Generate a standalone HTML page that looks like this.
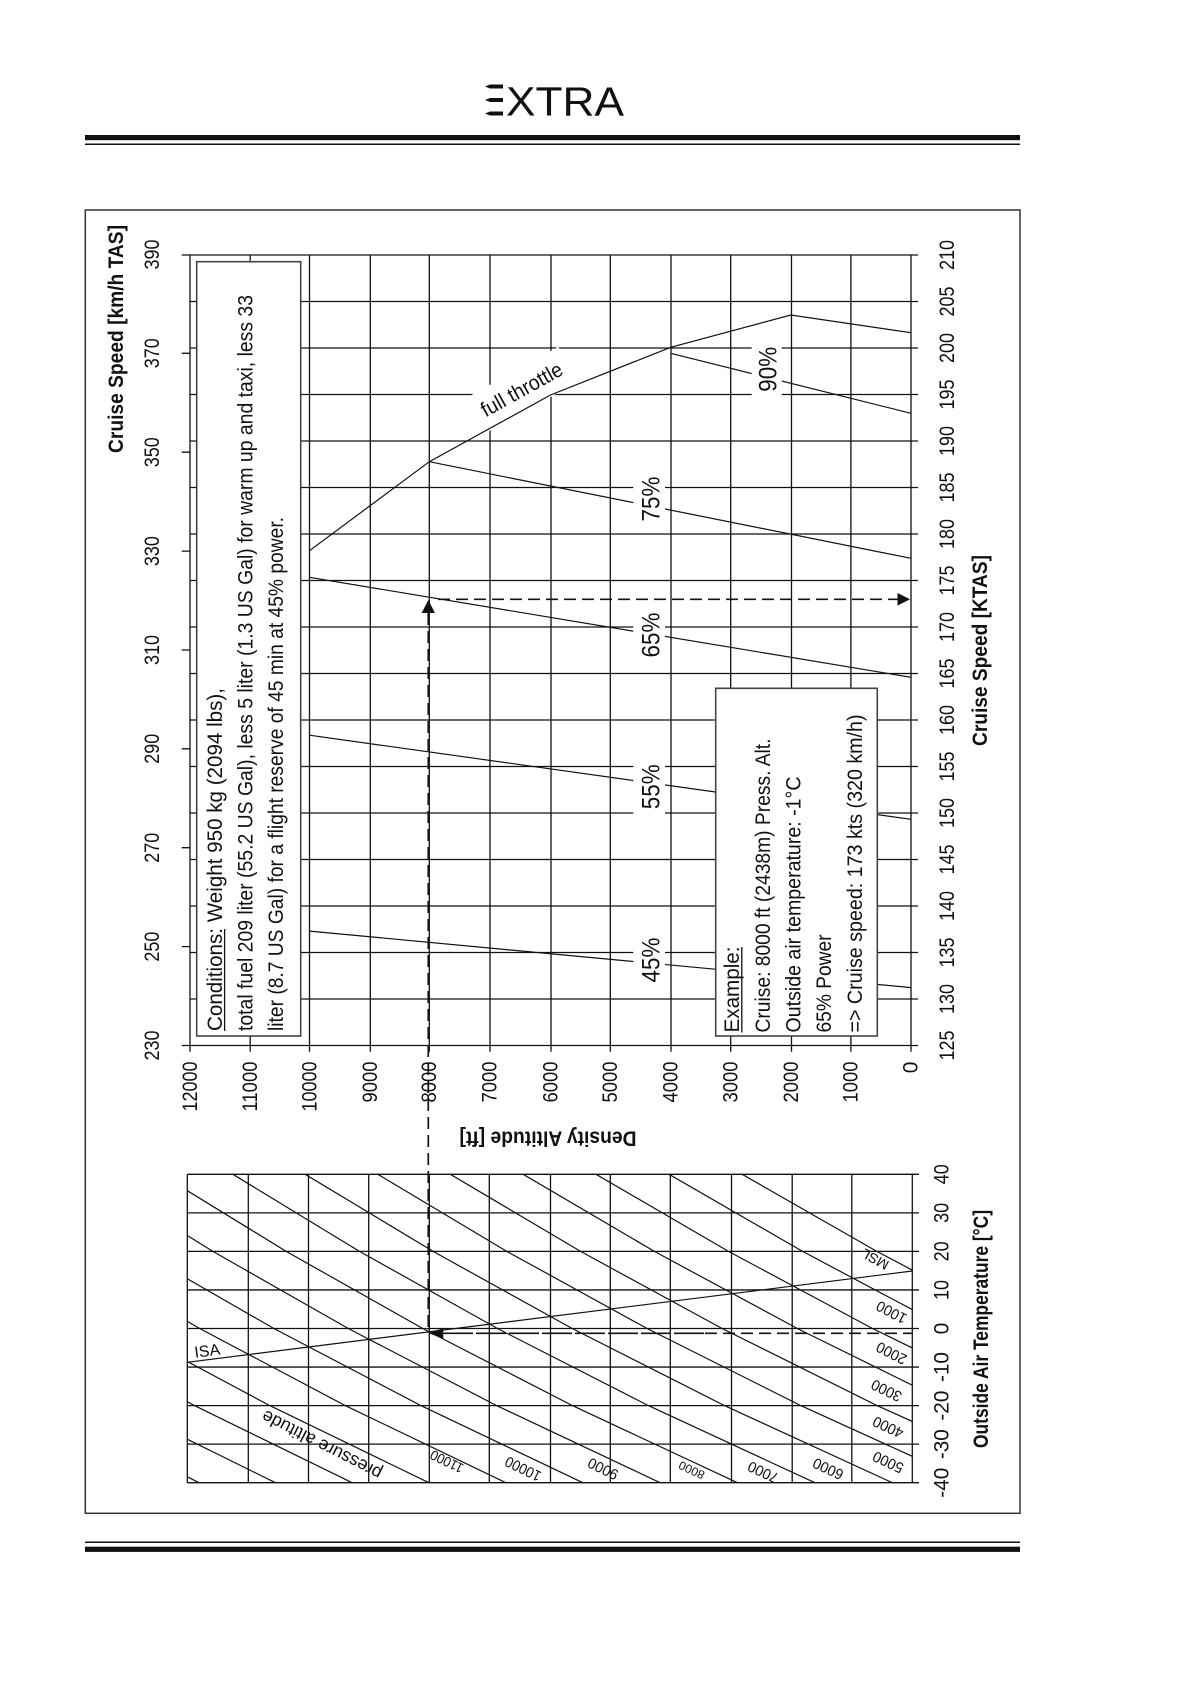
<!DOCTYPE html>
<html><head><meta charset="utf-8"><style>
html,body{margin:0;padding:0;background:#fff;}
svg{display:block;}
text{font-family:"Liberation Sans",Arial,sans-serif;fill:#111;}
.b{font-weight:bold;}
</style></head><body>
<svg width="1191" height="1684" viewBox="0 0 1191 1684" xmlns="http://www.w3.org/2000/svg">
<rect x="0" y="0" width="1191" height="1684" fill="#fff"/>
<!-- header -->
<polygon points="485,86.5 490,84.5 503,84.5 503,88.5 490,88.5" fill="#111"/>
<polygon points="485,100 490,98 503,98 503,102 490,102" fill="#111"/>
<polygon points="485,113.5 490,111.5 503,111.5 503,115.5 490,115.5" fill="#111"/>
<text x="506" y="115.5" font-size="41" textLength="118" lengthAdjust="spacingAndGlyphs">XTRA</text>
<rect x="85" y="135" width="935" height="5.2" fill="#111"/>
<line x1="85" y1="144.3" x2="1020" y2="144.3" stroke="#111" stroke-width="1.5"/>
<line x1="85" y1="1542.3" x2="1020" y2="1542.3" stroke="#111" stroke-width="1.5"/>
<rect x="85" y="1546.7" width="935" height="5.2" fill="#111"/>
<!-- frame -->
<rect x="85.3" y="210" width="934.7" height="1303.3" fill="none" stroke="#333" stroke-width="1.5"/>

<!-- main grid -->
<path fill="none" stroke="#111" stroke-width="1.3" d="M181.7 255H918 M189.7 301.5H918 M189.7 348H918 M189.7 394.5H918 M189.7 441H918 M189.7 487.5H918 M189.7 534H918 M189.7 580.5H918 M189.7 627H918 M189.7 673.5H918 M189.7 720H918 M189.7 766.5H918 M189.7 813H918 M189.7 859.5H918 M189.7 906H918 M189.7 952.5H918 M189.7 999H918 M181.7 1045.5H918
M181.7 946.6H189.7 M181.7 847.7H189.7 M181.7 748.8H189.7 M181.7 650H189.7 M181.7 551.1H189.7 M181.7 452.2H189.7 M181.7 353.3H189.7
M190 255V1051.7 M250.2 255V1051.7 M309.5 255V1051.7 M370.3 255V1051.7 M429.3 255V1051.7 M490 255V1051.7 M551 255V1051.7 M610.3 255V1051.7 M671 255V1051.7 M730.7 255V1051.7 M791.5 255V1051.7 M850.9 255V1051.7 M911 255V1051.7"/>

<!-- full throttle label background -->
<rect x="465" y="371" width="110" height="40" fill="#fff" transform="rotate(-29 520 391)"/>

<!-- curves -->
<g fill="none" stroke="#111" stroke-width="1.2">
<polyline points="309.5,550.7 429.3,461.7 550.5,395 670.7,347.3 790.8,315 911,332.7"/>
<line x1="670.7" y1="353.3" x2="911" y2="413.3"/>
<line x1="429.3" y1="461.7" x2="911" y2="558.3"/>
<line x1="309.5" y1="577.3" x2="911" y2="677.3"/>
<line x1="309.5" y1="735.2" x2="911" y2="819.3"/>
<line x1="309.5" y1="931.1" x2="911" y2="987.6"/>
</g>

<!-- percent label backgrounds -->
<g fill="#fff">
<rect x="751.7" y="342" width="30" height="54"/>
<rect x="633.3" y="471" width="31.7" height="56"/>
<rect x="633.3" y="608" width="31.7" height="54"/>
<rect x="633.3" y="759" width="31.7" height="57"/>
<rect x="633.3" y="932" width="31.7" height="56"/>
</g>
<g font-size="25" text-anchor="middle" dominant-baseline="central">
<text transform="translate(768.3,369.2) rotate(-90)" textLength="45" lengthAdjust="spacingAndGlyphs">90%</text>
<text transform="translate(651.7,499) rotate(-90)" textLength="45" lengthAdjust="spacingAndGlyphs">75%</text>
<text transform="translate(651.7,635) rotate(-90)" textLength="45" lengthAdjust="spacingAndGlyphs">65%</text>
<text transform="translate(651.7,786.7) rotate(-90)" textLength="45" lengthAdjust="spacingAndGlyphs">55%</text>
<text transform="translate(651.7,960) rotate(-90)" textLength="45" lengthAdjust="spacingAndGlyphs">45%</text>
</g>
<text transform="translate(522,390) rotate(-29)" font-size="21" text-anchor="middle" dominant-baseline="central" textLength="90" lengthAdjust="spacingAndGlyphs">full throttle</text>

<!-- conditions box -->
<rect x="196.7" y="261.7" width="104" height="774.3" fill="#fff" stroke="#444" stroke-width="1.6"/>
<g font-size="21.5">
<text transform="translate(222,1031) rotate(-90)" textLength="343" lengthAdjust="spacingAndGlyphs">Conditions: Weight 950 kg (2094 lbs),</text>
<text transform="translate(252.3,1031) rotate(-90)" textLength="736" lengthAdjust="spacingAndGlyphs">total fuel 209 liter (55.2 US Gal), less 5 liter (1.3 US Gal) for warm up and taxi, less 33</text>
<text transform="translate(283,1031) rotate(-90)" textLength="514" lengthAdjust="spacingAndGlyphs">liter (8.7 US Gal) for a flight reserve of 45 min at 45% power.</text>
</g>
<line x1="224.6" y1="1031" x2="224.6" y2="929" stroke="#111" stroke-width="1.3"/>

<!-- example box -->
<rect x="715.7" y="688.3" width="161.6" height="347.7" fill="#fff" stroke="#444" stroke-width="1.6"/>
<g font-size="21.5">
<text transform="translate(739,1032.5) rotate(-90)" textLength="86" lengthAdjust="spacingAndGlyphs">Example:</text>
<text transform="translate(770,1032.5) rotate(-90)" textLength="294" lengthAdjust="spacingAndGlyphs">Cruise: 8000 ft (2438m) Press. Alt.</text>
<text transform="translate(800.5,1032.5) rotate(-90)" textLength="256" lengthAdjust="spacingAndGlyphs">Outside air temperature: -1°C</text>
<text transform="translate(831,1032.5) rotate(-90)" textLength="98" lengthAdjust="spacingAndGlyphs">65% Power</text>
<text transform="translate(862,1032.5) rotate(-90)" textLength="318" lengthAdjust="spacingAndGlyphs">=&gt; Cruise speed: 173 kts (320 km/h)</text>
</g>
<line x1="741.8" y1="1032.5" x2="741.8" y2="947" stroke="#111" stroke-width="1.3"/>

<!-- km/h labels -->
<g font-size="21" text-anchor="middle" dominant-baseline="central">
<text transform="translate(152.5,1045.5) rotate(-90)" textLength="30" lengthAdjust="spacingAndGlyphs">230</text>
<text transform="translate(152.5,946.6) rotate(-90)" textLength="30" lengthAdjust="spacingAndGlyphs">250</text>
<text transform="translate(152.5,847.7) rotate(-90)" textLength="30" lengthAdjust="spacingAndGlyphs">270</text>
<text transform="translate(152.5,748.8) rotate(-90)" textLength="30" lengthAdjust="spacingAndGlyphs">290</text>
<text transform="translate(152.5,650) rotate(-90)" textLength="30" lengthAdjust="spacingAndGlyphs">310</text>
<text transform="translate(152.5,551.1) rotate(-90)" textLength="30" lengthAdjust="spacingAndGlyphs">330</text>
<text transform="translate(152.5,452.2) rotate(-90)" textLength="30" lengthAdjust="spacingAndGlyphs">350</text>
<text transform="translate(152.5,353.3) rotate(-90)" textLength="30" lengthAdjust="spacingAndGlyphs">370</text>
<text transform="translate(152.5,254.5) rotate(-90)" textLength="30" lengthAdjust="spacingAndGlyphs">390</text>
</g>
<text class="b" transform="translate(123,339) rotate(-90)" font-size="21" text-anchor="middle" textLength="228" lengthAdjust="spacingAndGlyphs">Cruise Speed [km/h TAS]</text>

<!-- KTAS labels -->
<g font-size="21" text-anchor="middle" dominant-baseline="central">
<text transform="translate(947.5,1045.5) rotate(-90)" textLength="30" lengthAdjust="spacingAndGlyphs">125</text>
<text transform="translate(947.5,999) rotate(-90)" textLength="30" lengthAdjust="spacingAndGlyphs">130</text>
<text transform="translate(947.5,952.5) rotate(-90)" textLength="30" lengthAdjust="spacingAndGlyphs">135</text>
<text transform="translate(947.5,906) rotate(-90)" textLength="30" lengthAdjust="spacingAndGlyphs">140</text>
<text transform="translate(947.5,859.5) rotate(-90)" textLength="30" lengthAdjust="spacingAndGlyphs">145</text>
<text transform="translate(947.5,813) rotate(-90)" textLength="30" lengthAdjust="spacingAndGlyphs">150</text>
<text transform="translate(947.5,766.5) rotate(-90)" textLength="30" lengthAdjust="spacingAndGlyphs">155</text>
<text transform="translate(947.5,720) rotate(-90)" textLength="30" lengthAdjust="spacingAndGlyphs">160</text>
<text transform="translate(947.5,673.5) rotate(-90)" textLength="30" lengthAdjust="spacingAndGlyphs">165</text>
<text transform="translate(947.5,627) rotate(-90)" textLength="30" lengthAdjust="spacingAndGlyphs">170</text>
<text transform="translate(947.5,580.5) rotate(-90)" textLength="30" lengthAdjust="spacingAndGlyphs">175</text>
<text transform="translate(947.5,534) rotate(-90)" textLength="30" lengthAdjust="spacingAndGlyphs">180</text>
<text transform="translate(947.5,487.5) rotate(-90)" textLength="30" lengthAdjust="spacingAndGlyphs">185</text>
<text transform="translate(947.5,441) rotate(-90)" textLength="30" lengthAdjust="spacingAndGlyphs">190</text>
<text transform="translate(947.5,394.5) rotate(-90)" textLength="30" lengthAdjust="spacingAndGlyphs">195</text>
<text transform="translate(947.5,348) rotate(-90)" textLength="30" lengthAdjust="spacingAndGlyphs">200</text>
<text transform="translate(947.5,301.5) rotate(-90)" textLength="30" lengthAdjust="spacingAndGlyphs">205</text>
<text transform="translate(947.5,255) rotate(-90)" textLength="30" lengthAdjust="spacingAndGlyphs">210</text>
</g>
<text class="b" transform="translate(987,650.5) rotate(-90)" font-size="21" text-anchor="middle" textLength="191" lengthAdjust="spacingAndGlyphs">Cruise Speed [KTAS]</text>

<!-- density altitude labels -->
<g font-size="21" text-anchor="end" dominant-baseline="central">
<text transform="translate(190.5,1061.5) rotate(-90)" textLength="50" lengthAdjust="spacingAndGlyphs">12000</text>
<text transform="translate(250.5,1061.5) rotate(-90)" textLength="50" lengthAdjust="spacingAndGlyphs">11000</text>
<text transform="translate(309.8,1061.5) rotate(-90)" textLength="50" lengthAdjust="spacingAndGlyphs">10000</text>
<text transform="translate(370.5,1061.5) rotate(-90)" textLength="41" lengthAdjust="spacingAndGlyphs">9000</text>
<text transform="translate(429.5,1061.5) rotate(-90)" textLength="41" lengthAdjust="spacingAndGlyphs">8000</text>
<text transform="translate(490.2,1061.5) rotate(-90)" textLength="41" lengthAdjust="spacingAndGlyphs">7000</text>
<text transform="translate(551.2,1061.5) rotate(-90)" textLength="41" lengthAdjust="spacingAndGlyphs">6000</text>
<text transform="translate(610.5,1061.5) rotate(-90)" textLength="41" lengthAdjust="spacingAndGlyphs">5000</text>
<text transform="translate(671.2,1061.5) rotate(-90)" textLength="41" lengthAdjust="spacingAndGlyphs">4000</text>
<text transform="translate(730.9,1061.5) rotate(-90)" textLength="41" lengthAdjust="spacingAndGlyphs">3000</text>
<text transform="translate(791.7,1061.5) rotate(-90)" textLength="41" lengthAdjust="spacingAndGlyphs">2000</text>
<text transform="translate(851.1,1061.5) rotate(-90)" textLength="41" lengthAdjust="spacingAndGlyphs">1000</text>
<text transform="translate(911.2,1061.5) rotate(-90)">0</text>
</g>
<text class="b" transform="translate(548,1138) rotate(180)" font-size="21" text-anchor="middle" dominant-baseline="central" textLength="177" lengthAdjust="spacingAndGlyphs">Density Altitude [ft]</text>

<!-- lower chart -->
<defs><clipPath id="lc"><rect x="187.3" y="1174.3" width="725" height="308.4"/></clipPath></defs>
<g clip-path="url(#lc)" fill="none" stroke="#111" stroke-width="1.2">
<polyline points="742.2,1174.3 876.8,1251.4 1023.4,1328.5"/>
<polyline points="669.1,1174.3 802.6,1251.4 947.9,1328.5 1107,1405.6"/>
<polyline points="596.1,1174.3 728.5,1251.4 872.5,1328.5 1030.2,1405.6"/>
<polyline points="523.2,1174.3 654.4,1251.4 797.3,1328.5 953.6,1405.6"/>
<polyline points="450.4,1174.3 580.6,1251.4 722.1,1328.5 877.1,1405.6 1048.1,1482.7"/>
<polyline points="377.8,1174.3 506.8,1251.4 647.1,1328.5 800.8,1405.6 970.2,1482.7"/>
<polyline points="305.2,1174.3 433.1,1251.4 572.2,1328.5 724.5,1405.6 892.4,1482.7"/>
<polyline points="232.9,1174.3 359.5,1251.4 497.5,1328.5 648.4,1405.6 814.8,1482.7"/>
<polyline points="160.6,1174.3 286.2,1251.4 422.8,1328.5 572.4,1405.6 737.4,1482.7"/>
<polyline points="88.5,1174.3 212.9,1251.4 348.3,1328.5 496.6,1405.6 660.1,1482.7"/>
<polyline points="16.4,1174.3 139.7,1251.4 273.9,1328.5 420.9,1405.6 582.8,1482.7"/>
<polyline points="66.7,1251.4 199.7,1328.5 345.3,1405.6 505.8,1482.7"/>
<polyline points="-6.2,1251.4 125.5,1328.5 269.8,1405.6 428.9,1482.7"/>
<polyline points="51.6,1328.5 194.5,1405.6 352.1,1482.7"/>
<polyline points="-22.2,1328.5 119.3,1405.6 275.4,1482.7"/>
<polyline points="44.3,1405.6 199,1482.7"/>
<line x1="187.3" y1="1362.3" x2="912.3" y2="1271"/>
</g>
<path fill="none" stroke="#111" stroke-width="1.3" d="M187.3 1174.3H919 M187.3 1212.85H919 M187.3 1251.4H919 M187.3 1289.95H919 M187.3 1328.5H919 M187.3 1367.05H919 M187.3 1405.6H919 M187.3 1444.15H919 M187.3 1482.7H919
M187.3 1174.3V1482.7 M248.3 1174.3V1482.7 M308.5 1174.3V1482.7 M368.7 1174.3V1482.7 M429.3 1174.3V1482.7 M489.3 1174.3V1482.7 M550.5 1174.3V1482.7 M610.3 1174.3V1482.7 M670.3 1174.3V1482.7 M731.5 1174.3V1482.7 M792.2 1174.3V1482.7 M851.8 1174.3V1482.7 M912.3 1174.3V1482.7"/>

<!-- pressure altitude labels -->
<g font-size="15" text-anchor="middle" dominant-baseline="central">
<text transform="translate(875,1259.3) rotate(209)" font-size="14">MSL</text>
<text transform="translate(891.7,1311.7) rotate(208)" textLength="32" lengthAdjust="spacingAndGlyphs">1000</text>
<text transform="translate(891.7,1352.7) rotate(207)" textLength="32" lengthAdjust="spacingAndGlyphs">2000</text>
<text transform="translate(886.7,1390) rotate(206)" textLength="32" lengthAdjust="spacingAndGlyphs">3000</text>
<text transform="translate(888.3,1426.7) rotate(205)" textLength="32" lengthAdjust="spacingAndGlyphs">4000</text>
<text transform="translate(888.3,1461.7) rotate(205)" textLength="32" lengthAdjust="spacingAndGlyphs">5000</text>
<text transform="translate(828.3,1468.3) rotate(205)" textLength="32" lengthAdjust="spacingAndGlyphs">6000</text>
<text transform="translate(763.3,1471.7) rotate(205)" textLength="32" lengthAdjust="spacingAndGlyphs">7000</text>
<text transform="translate(691.7,1470) rotate(205)" font-size="12" textLength="27" lengthAdjust="spacingAndGlyphs">8000</text>
<text transform="translate(603.3,1468.3) rotate(206)" textLength="32" lengthAdjust="spacingAndGlyphs">9000</text>
<text transform="translate(523.3,1468.3) rotate(206)" textLength="38" lengthAdjust="spacingAndGlyphs">10000</text>
<text transform="translate(446.7,1461.7) rotate(206)" font-size="14" textLength="35" lengthAdjust="spacingAndGlyphs">11000</text>
<text transform="translate(321.7,1445) rotate(207)" font-size="18" textLength="132" lengthAdjust="spacingAndGlyphs">pressure altitude</text>
<text transform="translate(207.3,1351.7) rotate(-7.2)" font-size="16">ISA</text>
</g>

<!-- temperature labels -->
<g font-size="21" text-anchor="middle" dominant-baseline="central">
<text transform="translate(942,1174.3) rotate(-90)" textLength="20" lengthAdjust="spacingAndGlyphs">40</text>
<text transform="translate(942,1212.85) rotate(-90)" textLength="20" lengthAdjust="spacingAndGlyphs">30</text>
<text transform="translate(942,1251.4) rotate(-90)" textLength="20" lengthAdjust="spacingAndGlyphs">20</text>
<text transform="translate(942,1289.95) rotate(-90)" textLength="20" lengthAdjust="spacingAndGlyphs">10</text>
<text transform="translate(942,1328.5) rotate(-90)">0</text>
<text transform="translate(942,1367.05) rotate(-90)" textLength="30" lengthAdjust="spacingAndGlyphs">-10</text>
<text transform="translate(942,1405.6) rotate(-90)" textLength="30" lengthAdjust="spacingAndGlyphs">-20</text>
<text transform="translate(942,1444.15) rotate(-90)" textLength="30" lengthAdjust="spacingAndGlyphs">-30</text>
<text transform="translate(942,1482.7) rotate(-90)" textLength="30" lengthAdjust="spacingAndGlyphs">-40</text>
</g>
<text class="b" transform="translate(988,1329) rotate(-90)" font-size="21" text-anchor="middle" textLength="238" lengthAdjust="spacingAndGlyphs">Outside Air Temperature [°C]</text>

<!-- example dashed path -->
<g fill="none" stroke="#111" stroke-width="1.7">
<line x1="428.3" y1="613" x2="428.3" y2="1333" stroke-dasharray="12 6"/>
<line x1="438" y1="599.3" x2="898" y2="599.3" stroke-dasharray="12 6"/>
<line x1="443" y1="1333.3" x2="705" y2="1333.3" stroke-dasharray="30 3"/>
<line x1="705" y1="1333.3" x2="912.3" y2="1333.3" stroke-dasharray="12 6"/>
</g>
<g fill="#111">
<polygon points="428.3,600 421.6,613 435,613"/>
<polygon points="910,599.3 897.5,593 897.5,605.6"/>
<polygon points="428.8,1333.3 443.3,1328 443.3,1338.6"/>
</g>
</svg>
</body></html>
